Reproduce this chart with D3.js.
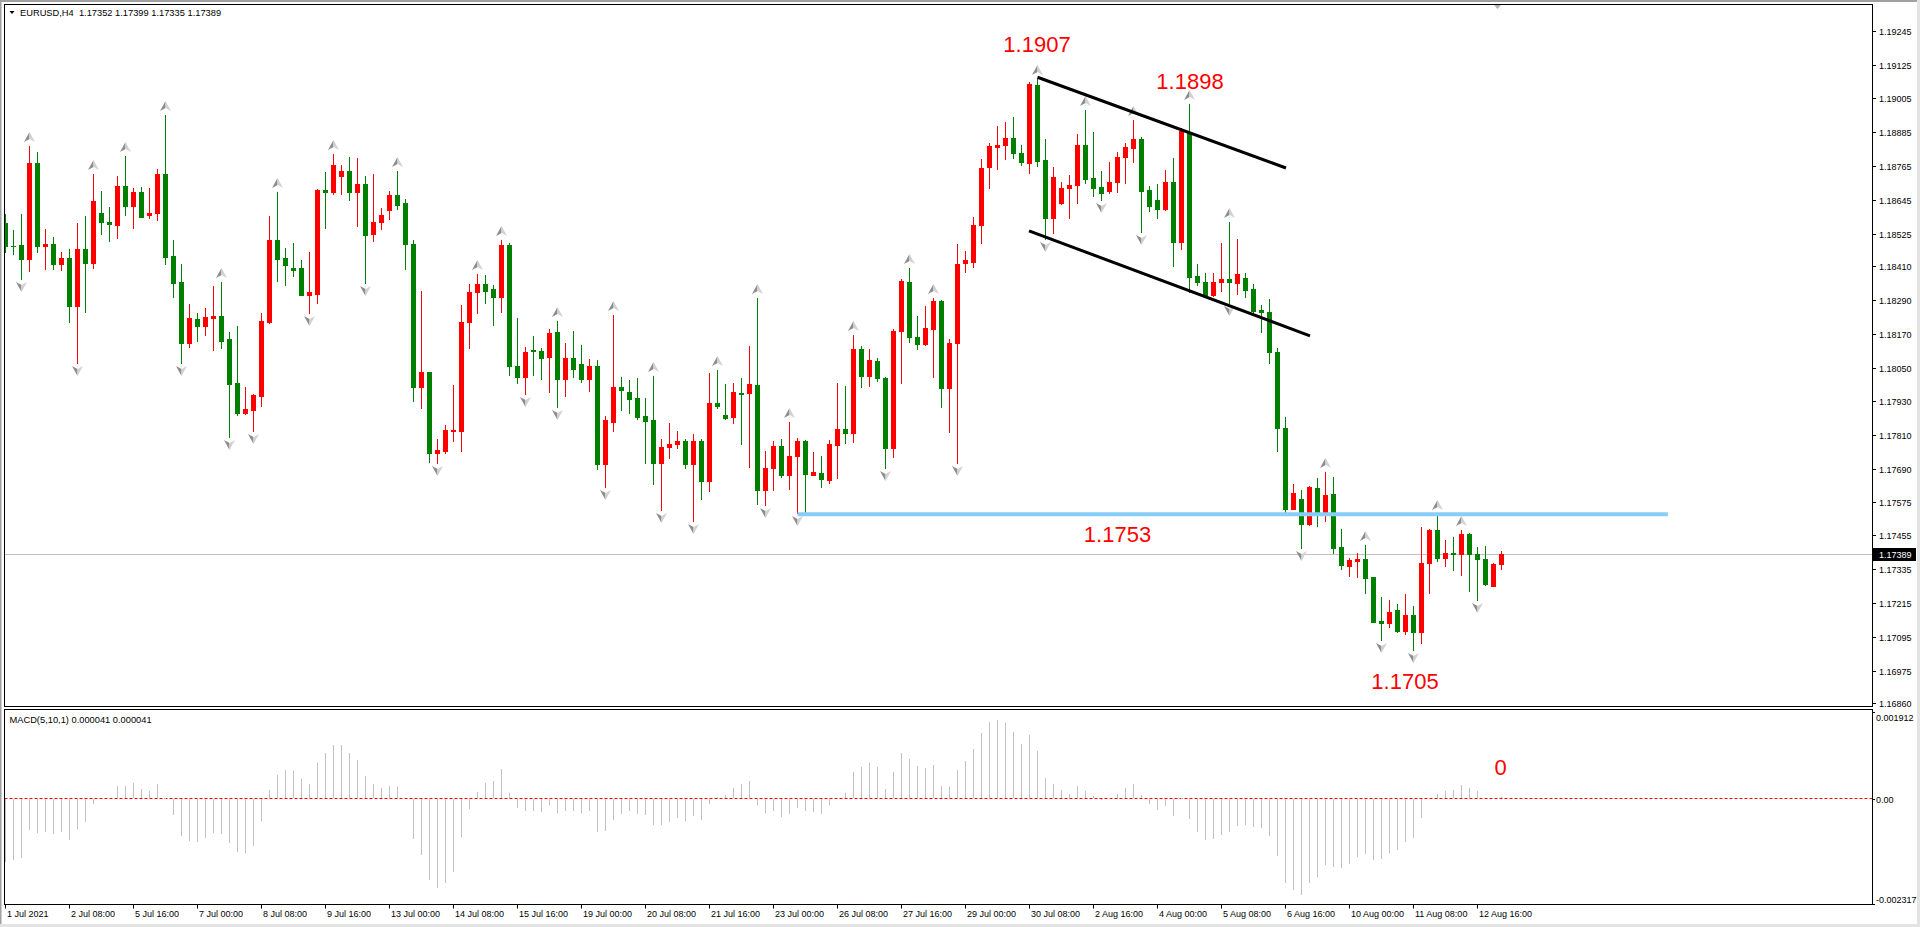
<!DOCTYPE html>
<html><head><meta charset="utf-8">
<script src="https://cdn.jsdelivr.net/npm/d3@7"></script>
<style>html,body{margin:0;padding:0;background:#fff;overflow:hidden}svg{display:block}</style>
</head><body>
<svg id="c" width="1920" height="927"></svg>
<script>
// ---------------- DATA (EURUSD H4) ----------------
const openP=[
1.18562,1.18482,1.18485,1.18435,1.18775,1.18482,1.18490,1.18418,1.18440,1.18270,
1.18470,1.18421,1.18598,1.18567,1.18556,1.18694,1.18625,1.18673,1.18592,1.18600,
1.18737,1.18446,1.18354,1.18139,1.18223,1.18199,1.18227,1.18233,1.18151,1.17994,
1.17888,1.17900,1.17951,1.18213,1.18503,1.18440,1.18404,1.18404,1.18308,1.18311,
1.18680,1.18673,1.18728,1.18748,1.18673,1.18701,1.18524,1.18565,1.18610,1.18663,
1.18633,1.18490,1.17980,1.18033,1.17749,1.17756,1.17826,1.17826,1.18211,1.18317,
1.18345,1.18329,1.18302,1.18485,1.18056,1.18018,1.18113,1.18109,1.18089,1.18175,
1.18009,1.18083,1.18063,1.18010,1.18056,1.17708,1.17858,1.17980,1.17963,1.17941,
1.17878,1.17864,1.17713,1.17770,1.17781,1.17790,1.17708,1.17790,1.17649,1.17923,
1.17882,1.17876,1.17961,1.17959,1.17987,1.17616,1.17695,1.17772,1.17669,1.17737,
1.17790,1.17671,1.17675,1.17651,1.17776,1.17832,1.17820,1.18115,1.18021,1.18075,
1.18014,1.17766,1.18180,1.18353,1.18160,1.18133,1.18186,1.18285,1.17979,1.18136,
1.18420,1.18426,1.18556,1.18761,1.18834,1.18838,1.18866,1.18810,1.18777,1.19053,
1.18787,1.18582,1.18635,1.18686,1.18698,1.18840,1.18721,1.18690,1.18677,1.18707,
1.18798,1.18830,1.18861,1.18680,1.18645,1.18612,1.18707,1.18497,1.18885,1.18375,
1.18355,1.18308,1.18352,1.18363,1.18349,1.18367,1.18329,1.18255,1.18246,1.18105,
1.17835,1.17549,1.17584,1.17495,1.17622,1.17536,1.17601,1.17413,1.17348,1.17366,
1.17372,1.17306,1.17151,1.17145,1.17190,1.17117,1.17173,1.17113,1.17358,1.17474,
1.17374,1.17391,1.17389,1.17459,1.17388,1.17372,1.17277,1.17352];
const highP=[
1.18594,1.18539,1.18594,1.18836,1.18814,1.18542,1.18512,1.18459,1.18470,1.18562,
1.18588,1.18737,1.18677,1.18619,1.18728,1.18801,1.18686,1.18690,1.18686,1.18754,
1.18946,1.18503,1.18419,1.18276,1.18243,1.18261,1.18339,1.18352,1.18175,1.18198,
1.17980,1.17955,1.18243,1.18588,1.18672,1.18476,1.18493,1.18431,1.18461,1.18682,
1.18745,1.18808,1.18769,1.18798,1.18795,1.18730,1.18737,1.18615,1.18678,1.18748,
1.18647,1.18503,1.18322,1.18035,1.17797,1.17847,1.17988,1.18272,1.18347,1.18382,
1.18378,1.18343,1.18503,1.18493,1.18227,1.18122,1.18162,1.18121,1.18187,1.18216,
1.18137,1.18180,1.18131,1.18080,1.18077,1.17878,1.18237,1.18018,1.18006,1.18012,
1.17941,1.18022,1.17796,1.17852,1.17825,1.17797,1.17815,1.17797,1.18030,1.18041,
1.17992,1.17997,1.18012,1.18127,1.18298,1.17755,1.17791,1.17797,1.17856,1.17802,
1.17794,1.17750,1.17737,1.17794,1.17994,1.17985,1.18166,1.18127,1.18115,1.18083,
1.18016,1.18186,1.18363,1.18402,1.18233,1.18269,1.18297,1.18289,1.18151,1.18489,
1.18465,1.18586,1.18789,1.18846,1.18907,1.18922,1.18938,1.18840,1.19062,1.19075,
1.18861,1.18761,1.18707,1.18733,1.18878,1.18964,1.18885,1.18747,1.18781,1.18816,
1.18848,1.18928,1.18869,1.18696,1.18700,1.18751,1.18793,1.18899,1.18985,1.18417,
1.18385,1.18385,1.18491,1.18568,1.18505,1.18385,1.18347,1.18272,1.18293,1.18119,
1.17874,1.17637,1.17616,1.17630,1.17657,1.17681,1.17661,1.17477,1.17376,1.17394,
1.17421,1.17309,1.17238,1.17226,1.17212,1.17248,1.17206,1.17484,1.17477,1.17531,
1.17439,1.17448,1.17474,1.17462,1.17415,1.17418,1.17356,1.17399];
const lowP=[
1.18459,1.18453,1.18364,1.18394,1.18461,1.18400,1.18400,1.18396,1.18213,1.18066,
1.18249,1.18404,1.18524,1.18500,1.18511,1.18592,1.18547,1.18584,1.18582,1.18574,
1.18416,1.18302,1.18066,1.18125,1.18146,1.18166,1.18111,1.18119,1.17805,1.17882,
1.17885,1.17826,1.17915,1.18207,1.18358,1.18343,1.18375,1.18306,1.18243,1.18280,
1.18545,1.18666,1.18666,1.18645,1.18553,1.18351,1.18500,1.18541,1.18578,1.18613,
1.18400,1.17933,1.17908,1.17716,1.17711,1.17749,1.17791,1.17755,1.18121,1.18245,
1.18278,1.18202,1.18249,1.18024,1.17997,1.17955,1.18024,1.18010,1.17962,1.17911,
1.17950,1.18018,1.18000,1.17968,1.17691,1.17628,1.17826,1.17900,1.17890,1.17867,
1.17713,1.17637,1.17545,1.17731,1.17766,1.17693,1.17507,1.17584,1.17614,1.17908,
1.17868,1.17854,1.17779,1.17699,1.17568,1.17563,1.17616,1.17663,1.17619,1.17533,
1.17537,1.17669,1.17625,1.17642,1.17660,1.17784,1.17788,1.17983,1.17985,1.18002,
1.17693,1.17734,1.17997,1.18142,1.18115,1.18130,1.18016,1.17909,1.17823,1.17713,
1.18388,1.18408,1.18493,1.18686,1.18753,1.18790,1.18793,1.18769,1.18742,1.18766,
1.18506,1.18529,1.18631,1.18582,1.18635,1.18706,1.18660,1.18645,1.18671,1.18674,
1.18706,1.18781,1.18530,1.18607,1.18582,1.18610,1.18412,1.18471,1.18320,1.18343,
1.18306,1.18305,1.18323,1.18278,1.18311,1.18300,1.18245,1.18175,1.18066,1.17756,
1.17533,1.17547,1.17411,1.17493,1.17490,1.17507,1.17394,1.17336,1.17312,1.17309,
1.17250,1.17147,1.17084,1.17131,1.17113,1.17105,1.17049,1.17072,1.17250,1.17364,
1.17348,1.17332,1.17315,1.17259,1.17226,1.17279,1.17275,1.17335];
const closeP=[
1.18482,1.18480,1.18435,1.18775,1.18482,1.18490,1.18418,1.18440,1.18270,1.18470,
1.18421,1.18641,1.18565,1.18559,1.18694,1.18625,1.18673,1.18586,1.18598,1.18737,
1.18443,1.18351,1.18139,1.18225,1.18199,1.18229,1.18233,1.18146,1.17992,1.17890,
1.17902,1.17953,1.18216,1.18503,1.18435,1.18414,1.18398,1.18308,1.18318,1.18680,
1.18673,1.18769,1.18748,1.18673,1.18701,1.18520,1.18565,1.18592,1.18663,1.18627,
1.18488,1.17980,1.18033,1.17749,1.17758,1.17829,1.17830,1.18211,1.18317,1.18345,
1.18323,1.18302,1.18485,1.18057,1.18018,1.18105,1.18109,1.18085,1.18172,1.18009,
1.18083,1.18047,1.18010,1.18056,1.17708,1.17864,1.17980,1.17971,1.17938,1.17876,
1.17862,1.17713,1.17767,1.17781,1.17790,1.17708,1.17790,1.17649,1.17923,1.17914,
1.17873,1.17963,1.17955,1.17991,1.17616,1.17693,1.17772,1.17669,1.17737,1.17790,
1.17673,1.17681,1.17654,1.17779,1.17832,1.17820,1.18115,1.18021,1.18077,1.18014,
1.17766,1.18180,1.18357,1.18160,1.18133,1.18190,1.18287,1.17979,1.18136,1.18417,
1.18432,1.18556,1.18757,1.18836,1.18840,1.18866,1.18810,1.18778,1.19056,1.18784,
1.18582,1.18725,1.18688,1.18698,1.18840,1.18719,1.18688,1.18668,1.18710,1.18798,
1.18834,1.18860,1.18678,1.18625,1.18612,1.18707,1.18497,1.18889,1.18373,1.18355,
1.18308,1.18355,1.18363,1.18352,1.18382,1.18326,1.18252,1.18247,1.18105,1.17835,
1.17549,1.17604,1.17495,1.17625,1.17536,1.17598,1.17409,1.17350,1.17368,1.17372,
1.17305,1.17149,1.17145,1.17182,1.17117,1.17173,1.17113,1.17356,1.17474,1.17376,
1.17391,1.17388,1.17459,1.17389,1.17372,1.17283,1.17353,1.17389];
const macdV=[
-0.001395,-0.001358,-0.001306,-0.000697,-0.000756,-0.000734,-0.000785,-0.000734,-0.000918,-0.000675,
-0.000514,-0.000125,-0.000010,0.000022,0.000272,0.000272,0.000345,0.000206,0.000161,0.000316,
0.000000,-0.000367,-0.000829,-0.000932,-0.000954,-0.000866,-0.000756,-0.000785,-0.000976,-0.001174,
-0.001196,-0.001042,-0.000492,0.000198,0.000514,0.000624,0.000602,0.000426,0.000316,0.000785,
0.001006,0.001174,0.001174,0.001006,0.000844,0.000492,0.000316,0.000235,0.000272,0.000257,
-0.000005,-0.000895,-0.001248,-0.001798,-0.001967,-0.001857,-0.001615,-0.000844,-0.000235,0.000139,
0.000345,0.000382,0.000646,0.000117,-0.000206,-0.000272,-0.000272,-0.000294,-0.000147,-0.000316,
-0.000272,-0.000272,-0.000316,-0.000272,-0.000734,-0.000712,-0.000477,-0.000345,-0.000272,-0.000345,
-0.000367,-0.000587,-0.000587,-0.000514,-0.000440,-0.000492,-0.000389,-0.000477,-0.000125,0.000037,
0.000088,0.000242,0.000316,0.000382,-0.000147,-0.000316,-0.000272,-0.000404,-0.000345,-0.000206,
-0.000272,-0.000294,-0.000345,-0.000147,0.000022,0.000117,0.000587,0.000697,0.000785,0.000697,
0.000206,0.000587,0.001006,0.000866,0.000719,0.000668,0.000741,0.000272,0.000257,0.000624,
0.000822,0.001086,0.001446,0.001688,0.001725,0.001666,0.001468,0.001211,0.001395,0.001050,
0.000448,0.000316,0.000184,0.000095,0.000272,0.000161,0.000051,-0.000022,0.000000,0.000095,
0.000235,0.000316,0.000073,-0.000125,-0.000257,-0.000169,-0.000389,0.000000,-0.000455,-0.000734,
-0.000918,-0.000895,-0.000807,-0.000734,-0.000609,-0.000587,-0.000624,-0.000646,-0.000829,-0.001262,
-0.001857,-0.002019,-0.002129,-0.001857,-0.001725,-0.001468,-0.001505,-0.001527,-0.001446,-0.001285,
-0.001226,-0.001358,-0.001336,-0.001196,-0.001138,-0.000954,-0.000866,-0.000426,0.000010,0.000095,
0.000169,0.000184,0.000294,0.000228,0.000169,0.000005,0.000010,0.000041];
const timeTickIdx=[0,8,16,24,32,40,48,56,64,72,80,88,96,104,112,120,128,136,144,152,160,168,176,184];
const timeTickLabels=["1 Jul 2021","2 Jul 08:00","5 Jul 16:00","7 Jul 00:00","8 Jul 08:00","9 Jul 16:00",
"13 Jul 00:00","14 Jul 08:00","15 Jul 16:00","19 Jul 00:00","20 Jul 08:00","21 Jul 16:00","23 Jul 00:00",
"26 Jul 08:00","27 Jul 16:00","29 Jul 00:00","30 Jul 08:00","2 Aug 16:00","4 Aug 00:00","5 Aug 08:00",
"6 Aug 16:00","10 Aug 00:00","11 Aug 08:00","12 Aug 16:00"];
const priceTickLabels=["1.19245","1.19125","1.19005","1.18885","1.18765","1.18645","1.18525","1.18410",
"1.18290","1.18170","1.18050","1.17930","1.17810","1.17690","1.17575","1.17455","1.17335","1.17215",
"1.17095","1.16975","1.16860"];
const macdTop=0.001912, macdBottom=-0.002317;
const macdTickLabels=["0.001912","0.00","-0.002317"];
const bidPrice=1.17389;
const headerText="EURUSD,H4  1.17352 1.17399 1.17335 1.17389";
const macdTitle="MACD(5,10,1) 0.000041 0.000041";
const trendLines=[{k1:129,p1:1.19080,k2:160.06,p2:1.18758},{k1:127.94,p1:1.18535,k2:163.06,p2:1.18163}];
const levelLine={k1:99,k2:207.8,price:1.1753};
const priceNotes=[{text:"1.1907",k:128.94,price:1.19168},{text:"1.1898",k:148.06,price:1.19037},
{text:"1.1753",k:139.0,price:1.17432},{text:"1.1705",k:174.94,price:1.16909}];
const macdNotes=[{text:"0",k:186.9,value:0.000518}];
const shiftMarkK=186.5;

// ---------------- DRAW ----------------
const RED="#ff0000", GREEN="#008000", FONT="'Liberation Sans', Arial, sans-serif";
const svg=d3.select("#c");
const PL=4.5, PR=1872.5, PT=4.5, PB=706.5, MT=709.5, MB=904.5;
const n=openP.length;
const x=d3.scaleLinear().domain([0,n-1]).range([5.5,5.5+8*(n-1)]);
const y=d3.scaleLinear().domain([1.16860,1.19245]).range([703.2,30.7]);
const ym=d3.scaleLinear().domain([macdBottom,macdTop]).range([903.7,711.7]);

svg.append("rect").attr("width",1920).attr("height",927).attr("fill","#fff");
// window frame
svg.append("rect").attr("x",0).attr("y",0).attr("width",1920).attr("height",2).attr("fill","#a0a0a0");
svg.append("rect").attr("x",0).attr("y",0).attr("width",1.5).attr("height",927).attr("fill","#a0a0a0");
svg.append("rect").attr("x",1917).attr("y",0).attr("width",3).attr("height",927).attr("fill","#e3e3e3");
svg.append("rect").attr("x",0).attr("y",924).attr("width",1920).attr("height",3).attr("fill","#e3e3e3");

const defs=svg.append("defs");
defs.append("clipPath").attr("id","clipP").append("rect").attr("x",5).attr("y",5).attr("width",PR-5).attr("height",PB-5);
defs.append("clipPath").attr("id","clipM").append("rect").attr("x",5).attr("y",MT+0.5).attr("width",PR-5).attr("height",MB-MT-1);

// bid line
const yb=Math.round(y(bidPrice))+0.5;
svg.append("line").attr("x1",PL).attr("x2",PR).attr("y1",yb).attr("y2",yb).attr("stroke","#c0c0c0");

// candles
const candles=d3.range(n).map(i=>({i,o:openP[i],h:highP[i],l:lowP[i],c:closeP[i]}));
const col=d=>d.c>d.o?RED:GREEN;
const gC=svg.append("g").attr("clip-path","url(#clipP)");
gC.selectAll("line.w").data(candles).join("line").attr("class","w")
  .attr("x1",d=>x(d.i)).attr("x2",d=>x(d.i))
  .attr("y1",d=>Math.round(y(d.h))).attr("y2",d=>Math.round(y(d.l))+1)
  .attr("stroke",col).attr("stroke-width",1);
gC.selectAll("rect.b").data(candles).join("rect").attr("class","b")
  .attr("x",d=>x(d.i)-2.5).attr("width",5)
  .attr("y",d=>Math.round(y(Math.max(d.o,d.c))))
  .attr("height",d=>Math.max(1,Math.round(y(Math.min(d.o,d.c)))-Math.round(y(Math.max(d.o,d.c)))+1))
  .attr("fill",col);

// fractals
const ups=[],downs=[];
for(let i=2;i<n-2;i++){
  if(highP[i]>highP[i-1]&&highP[i]>highP[i-2]&&highP[i]>highP[i+1]&&highP[i]>highP[i+2]) ups.push(i);
  if(lowP[i]<lowP[i-1]&&lowP[i]<lowP[i-2]&&lowP[i]<lowP[i+1]&&lowP[i]<lowP[i+2]) downs.push(i);
}
const gF=gC.append("g");
ups.forEach(i=>{
  const cx=x(i), tip=Math.round(y(highP[i]))-14;
  const g=gF.append("g").attr("transform",`translate(${cx},${tip})`);
  g.append("path").attr("d","M0,0L-5.5,10L0,7Z").attr("fill","#8c8c8c");
  g.append("path").attr("d","M0,0L5.5,10L0,7Z").attr("fill","#d2d2d2");
});
downs.forEach(i=>{
  const cx=x(i), tip=Math.round(y(lowP[i]))+13;
  const g=gF.append("g").attr("transform",`translate(${cx},${tip})`);
  g.append("path").attr("d","M0,0L-5.5,-10L0,-7Z").attr("fill","#8c8c8c");
  g.append("path").attr("d","M0,0L5.5,-10L0,-7Z").attr("fill","#d2d2d2");
});

// objects
const gO=svg.append("g").attr("clip-path","url(#clipP)");
gO.append("line").attr("x1",x(levelLine.k1)).attr("x2",x(levelLine.k2))
  .attr("y1",y(levelLine.price)).attr("y2",y(levelLine.price))
  .attr("stroke","#87cefa").attr("stroke-width",4);
trendLines.forEach(t=>{
  gO.append("line").attr("x1",x(t.k1)).attr("y1",y(t.p1)).attr("x2",x(t.k2)).attr("y2",y(t.p2))
    .attr("stroke","#000").attr("stroke-width",3);
});
priceNotes.forEach(a=>{
  gO.append("text").attr("x",x(a.k)).attr("y",y(a.price)).attr("text-anchor","middle")
    .attr("font-family",FONT).attr("font-size",22).attr("fill",RED).text(a.text);
});

// MACD
const gM=svg.append("g").attr("clip-path","url(#clipM)");
const y0=ym(0);
gM.append("line").attr("x1",PL).attr("x2",PR).attr("y1",y0).attr("y2",y0)
  .attr("stroke",RED).attr("stroke-dasharray","3,2");
gM.selectAll("line.m").data(macdV.map((v,i)=>({v,i}))).join("line").attr("class","m")
  .attr("x1",d=>x(d.i)).attr("x2",d=>x(d.i))
  .attr("y1",d=>d.v>=0?Math.round(ym(d.v)):y0+0.5).attr("y2",d=>d.v>=0?y0-0.5:Math.round(ym(d.v)))
  .attr("stroke","#c0c0c0").attr("stroke-width",1);
macdNotes.forEach(a=>{
  gM.append("text").attr("x",x(a.k)).attr("y",ym(a.value)).attr("text-anchor","middle")
    .attr("font-family",FONT).attr("font-size",22).attr("fill",RED).text(a.text);
});

// panel borders
svg.append("rect").attr("x",PL).attr("y",PT).attr("width",PR-PL).attr("height",PB-PT).attr("fill","none").attr("stroke","#000");
svg.append("rect").attr("x",PL).attr("y",MT).attr("width",PR-PL).attr("height",MB-MT).attr("fill","none").attr("stroke","#000");

// chart shift marker
const sx=x(shiftMarkK);
svg.append("path").attr("d",`M${sx-3.5},5L${sx+3.5},5L${sx},9Z`).attr("fill","#b4b4b4");

// header
svg.append("path").attr("d","M9.5,11L14.5,11L12,14Z").attr("fill","#000");
svg.append("text").attr("x",20).attr("y",16).attr("font-family",FONT).attr("font-size",9.3).attr("fill","#000")
  .attr("xml:space","preserve").style("white-space","pre").text(headerText);
svg.append("text").attr("x",9.5).attr("y",722.5).attr("font-family",FONT).attr("font-size",9.3).attr("fill","#000").text(macdTitle);

// price axis
const gA=svg.append("g").attr("font-family",FONT).attr("font-size",9).attr("fill","#000");
priceTickLabels.forEach(s=>{
  const yy=Math.round(y(+s))+0.5;
  gA.append("line").attr("x1",PR).attr("x2",1876).attr("y1",yy).attr("y2",yy).attr("stroke","#000");
  gA.append("text").attr("x",1879).attr("y",yy).attr("dy","0.35em").text(s);
});
gA.append("rect").attr("x",1873).attr("y",yb-6.5).attr("width",43).attr("height",13).attr("fill","#000");
gA.append("text").attr("x",1879).attr("y",yb).attr("dy","0.35em").attr("fill","#fff").text(bidPrice.toFixed(5));

// macd axis
const macdTickVals=[macdTop,0,macdBottom];
macdTickVals.forEach((v,j)=>{
  const yy=Math.round(ym(v))+0.5;
  gA.append("line").attr("x1",PR).attr("x2",1875).attr("y1",yy).attr("y2",yy).attr("stroke","#000");
  const off=j===0?5:(j===2?-5:0);
  gA.append("text").attr("x",1876).attr("y",yy+off).attr("dy","0.35em").text(macdTickLabels[j]);
});

// time axis
timeTickIdx.forEach((k,j)=>{
  const xx=x(k);
  gA.append("line").attr("x1",xx).attr("x2",xx).attr("y1",MB).attr("y2",MB+4).attr("stroke","#000");
  gA.append("text").attr("x",xx+1.5).attr("y",917).text(timeTickLabels[j]);
});
</script>
</body></html>
